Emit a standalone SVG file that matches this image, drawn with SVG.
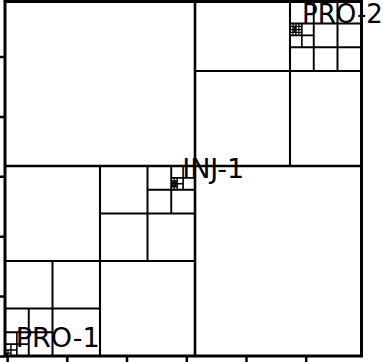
<svg xmlns="http://www.w3.org/2000/svg" width="383" height="362" viewBox="0 0 383 362">
<style>
.g{fill:none;stroke:#000;stroke-linecap:butt}
.l1{stroke-width:2.6}.l2{stroke-width:2.1}.l3{stroke-width:2}.l4{stroke-width:1.9}
.l5{stroke-width:1.6}.l6{stroke-width:1.4}.l7{stroke-width:1.2}.l8{stroke-width:1}
.tk{stroke:#000;stroke-width:2.5}
.lbl{font-family:"DejaVu Sans","Liberation Sans",sans-serif;font-size:27px;fill:#000}
</style>
<defs><clipPath id="c"><rect x="5" y="1.5" width="356.5" height="354.5"/></clipPath></defs>
<rect width="383" height="362" fill="#fff"/>
<g id="connectors" class="g" clip-path="url(#c)">
<path class="l1" d="M195 -24V356M5 166H383"/>
<path class="l2" d="M100 166V356M5 261H195M290 -24V166M195 71H383"/>
<path class="l3" d="M52.5 261V356M5 308.5H100M147.5 166V261M100 213.5H195M337.5 -24V71M290 23.5H383"/>
<path class="l4" d="M28.75 308.5V356M5 332.25H52.5M171.25 166V213.5M147.5 189.75H195M313.75 -24V71M290 47.25H383"/>
<path class="l5" d="M16.875 332.25V356M5 344.125H28.75M183.125 166V189.75M171.25 177.875H195M301.875 23.5V47.25M290 35.375H313.75"/>
<path class="l6" d="M10.94 344.125V356M5 350.06H16.875M177.19 177.875V189.75M171.25 183.81H183.125M295.94 23.5V35.375M290 29.44H301.875"/>
<path class="l7" d="M7.97 350.06V356M5 353.03H10.94M174.22 177.875V189.75M171.25 180.84H177.19M171.25 186.78H177.19M292.97 23.5V35.375M298.9 23.5V35.375M290 26.47H301.875M290 32.4H301.875"/>
<path class="l8" d="M6.48 353.03V356M5 354.5H7.97M172.73 180.84V186.78M175.7 180.84V186.78M171.25 182.33H177.19M171.25 185.3H177.19M294.45 26.47V32.4M292.97 27.95H295.94M292.97 30.9H295.94"/>
</g>
<g id="frame"><rect x="5" y="1.5" width="356.5" height="354.5" fill="none" stroke="#000" stroke-width="3"/></g>
<g id="ticks" class="tk">
<path d="M7.6 356V362M67.3 356V362M127 356V362M186.8 356V362M246.5 356V362M306.2 356V362"/>
<path d="M0 57H5M0 116.9H5M0 176.8H5M0 236.7H5M0 296.6H5M0 356.5H5"/>
</g>
<g id="INJ-1"><text class="lbl" x="182.2" y="178">INJ-1</text></g>
<g id="PRO-1"><text class="lbl" x="15.8" y="346.5">PRO-1</text></g>
<g id="PRO-2"><text class="lbl" x="302" y="23" style="font-size:26px">PRO-2</text></g>
</svg>
